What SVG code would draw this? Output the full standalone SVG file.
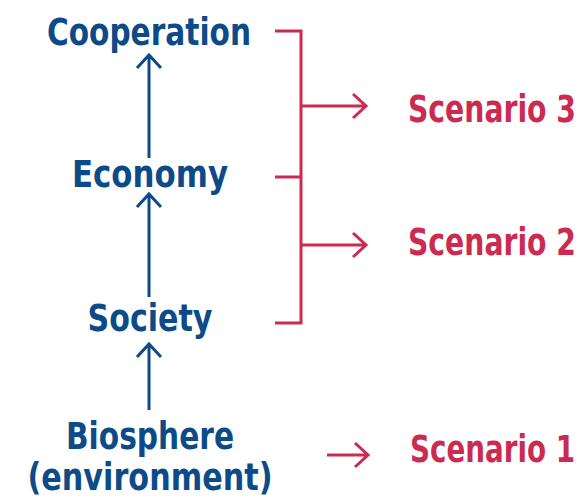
<svg xmlns="http://www.w3.org/2000/svg" width="585" height="501" viewBox="0 0 585 501">
<style>
.n{font-family:"DejaVu Sans Condensed","DejaVu Sans","Liberation Sans",sans-serif;font-weight:bold;font-size:37px;fill:#0c4b88;text-anchor:middle}
.s{font-family:"DejaVu Sans Condensed","DejaVu Sans","Liberation Sans",sans-serif;font-weight:bold;font-size:37px;fill:#cb2a51}
.b{stroke:#0c4b88;stroke-width:3;fill:none}
.r{stroke:#cb2a51;stroke-width:3;fill:none}
</style>
<rect width="585" height="501" fill="#fff"/>
<g id="cooperation"><text class="n" x="149" y="45" textLength="204" lengthAdjust="spacingAndGlyphs">Cooperation</text></g>
<g id="economy"><text class="n" x="150" y="187" textLength="156" lengthAdjust="spacingAndGlyphs">Economy</text></g>
<g id="society"><text class="n" x="150" y="331" textLength="125" lengthAdjust="spacingAndGlyphs">Society</text></g>
<g id="biosphere"><text class="n" x="150" y="449" textLength="168" lengthAdjust="spacingAndGlyphs">Biosphere</text><text class="n" x="150" y="490" textLength="245" lengthAdjust="spacingAndGlyphs">(environment)</text></g>
<g id="scenario3"><text class="s" x="408" y="122" textLength="168" lengthAdjust="spacingAndGlyphs">Scenario 3</text></g>
<g id="scenario2"><text class="s" x="408" y="255" textLength="168" lengthAdjust="spacingAndGlyphs">Scenario 2</text></g>
<g id="scenario1"><text class="s" x="410" y="462" textLength="165" lengthAdjust="spacingAndGlyphs">Scenario 1</text></g>
<g id="connectors">
<path class="b" d="M149 158V55M137 68L149 55L161 68"/>
<path class="b" d="M149 297V194M137 207L149 194L161 207"/>
<path class="b" d="M149 410V344M137 357L149 344L161 357"/>
<path class="r" d="M275 31H301V323H275M275 177H301"/>
<path class="r" d="M301 106H366M353 94L366 106L353 118"/>
<path class="r" d="M301 245H366M353 233L366 245L353 257"/>
<path class="r" d="M327 455H368M355 443L368 455L355 467"/>
</g>
</svg>
